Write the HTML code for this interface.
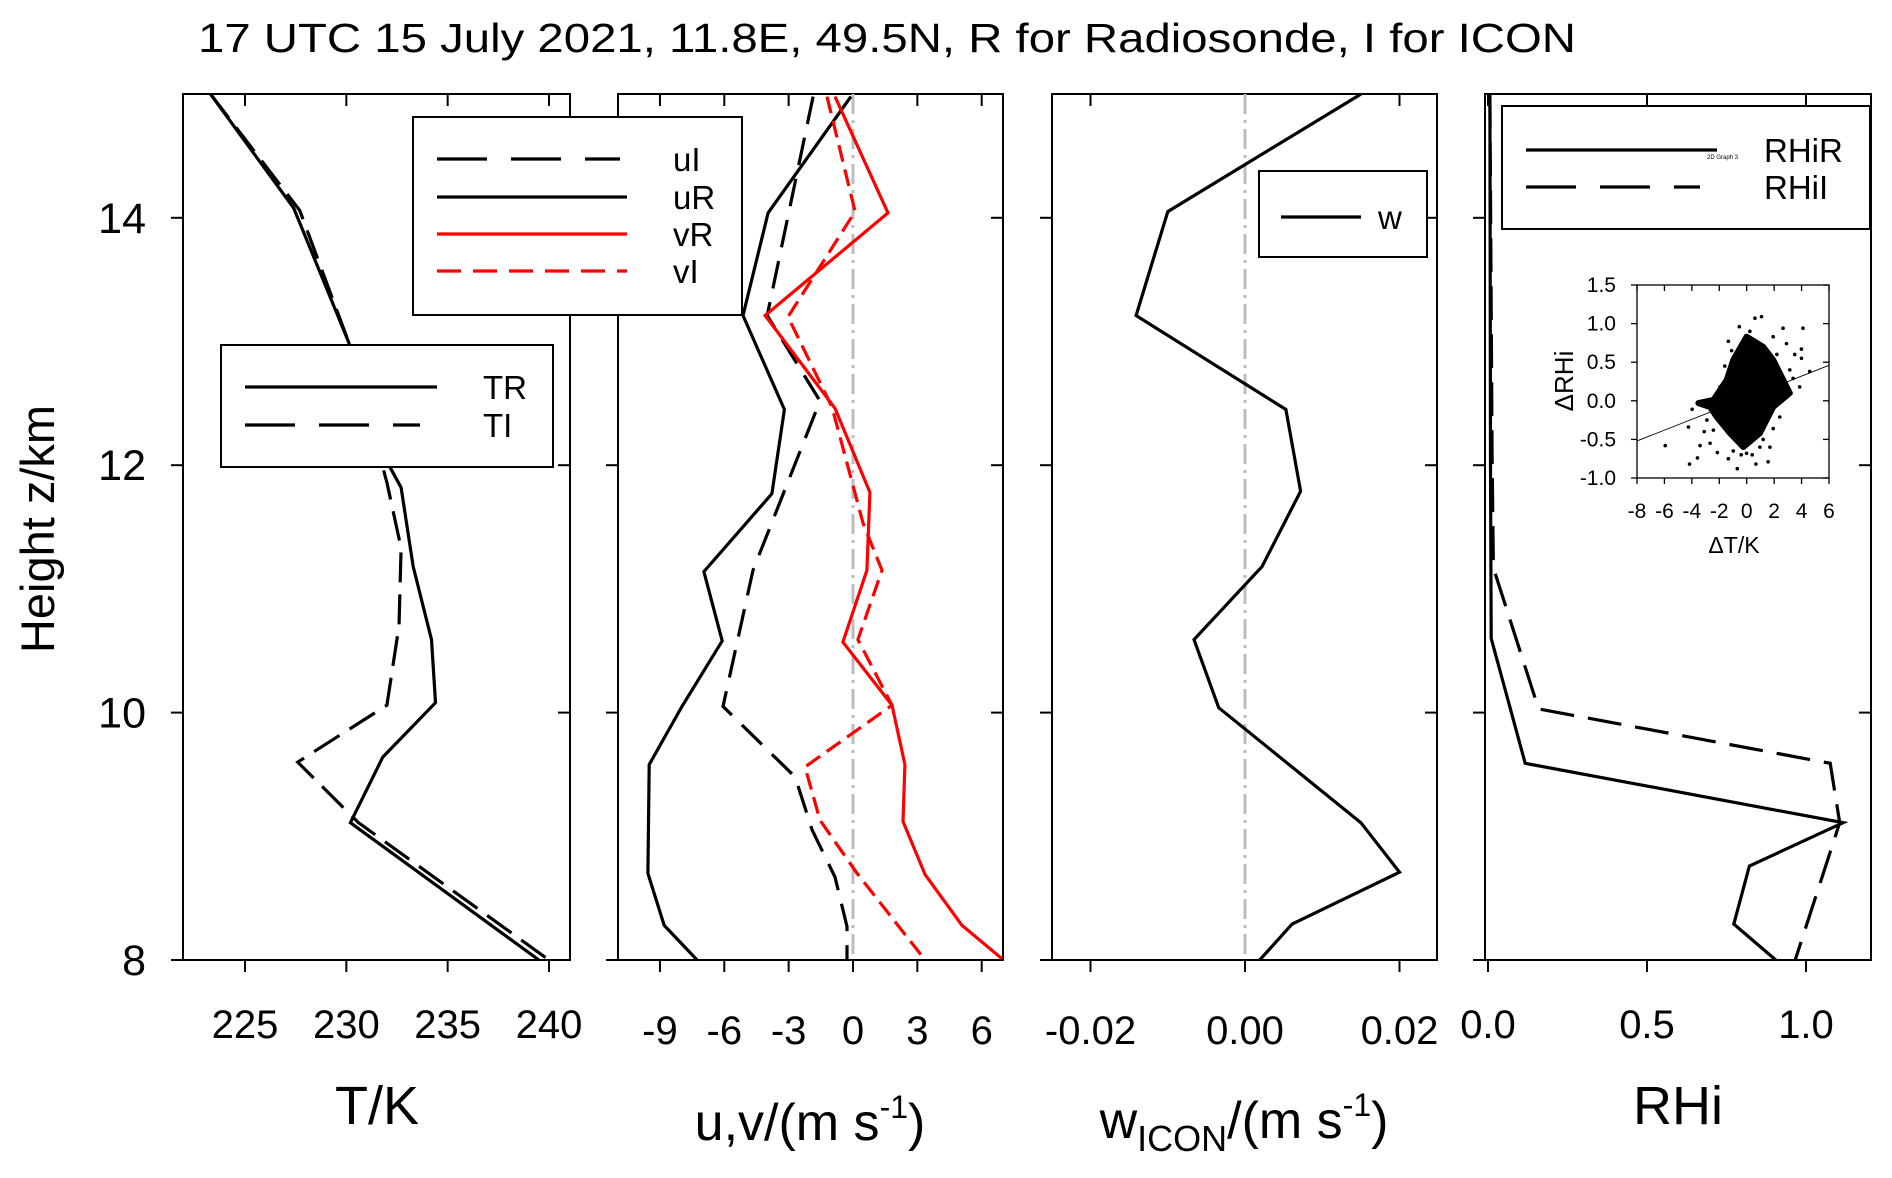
<!DOCTYPE html>
<html><head><meta charset="utf-8"><style>
html,body{margin:0;padding:0;background:#fff;}
svg{display:block;font-family:"Liberation Sans",Arial,sans-serif;}
</style></head><body>
<svg id="chart" width="1892" height="1178" viewBox="0 0 1892 1178" xmlns="http://www.w3.org/2000/svg">
<text x="198" y="52" font-size="41" textLength="1378" lengthAdjust="spacingAndGlyphs">17 UTC 15 July 2021, 11.8E, 49.5N, R for Radiosonde, I for ICON</text>
<text transform="translate(54,529) rotate(-90)" font-size="47" text-anchor="middle">Height z/km</text>
<g id="plots"></g>
</svg>
<script>
// ---- data ----
const zTicks = [8, 10, 12, 14];
const tTicks = [225, 230, 235, 240];
const uTicks = [-9, -6, -3, 0, 3, 6];
const wTicks = [-0.02, 0.00, 0.02];
const wTickLabels = ["-0.02", "0.00", "0.02"];
const rTicks = [0.0, 0.5, 1.0];
const rTickLabels = ["0.0", "0.5", "1.0"];

const trZ = [15, 14.08, 13.0, 12.0, 11.82, 11.18, 10.59, 10.08, 9.64, 9.11, 8.0];
const trT = [223.3, 227.4, 230.1, 232.1, 232.7, 233.3, 234.2, 234.4, 231.8, 230.2, 239.5];
const tiZ = [15, 14.06, 13.0, 11.86, 11.33, 10.7, 10.06, 9.6, 9.11, 8.0];
const tiT = [223.3, 227.7, 230.1, 232.0, 232.7, 232.6, 232.0, 227.6, 230.6, 240.0];

const urZ = [14.98, 14.04, 13.21, 12.45, 11.77, 11.14, 10.58, 10.05, 9.58, 8.70, 8.28, 8.0];
const urU = [-0.1, -3.96, -5.13, -3.2, -3.78, -6.95, -6.1, -7.97, -9.5, -9.56, -8.8, -7.27];
const uiZ = [14.98, 13.21, 12.52, 11.15, 10.05, 9.48, 9.05, 8.67, 8.27, 8.0];
const uiU = [-1.86, -4.0, -1.54, -4.66, -6.06, -2.7, -1.9, -0.84, -0.28, -0.28];
const vrZ = [14.98, 14.04, 13.21, 12.46, 11.78, 11.15, 10.57, 10.06, 9.58, 9.12, 8.69, 8.28, 8.01];
const vrV = [-0.84, 1.63, -4.1, -0.84, 0.79, 0.65, -0.47, 1.82, 2.42, 2.33, 3.36, 5.08, 6.95];
const viZ = [14.98, 14.05, 13.2, 12.47, 11.53, 11.15, 10.59, 10.06, 9.56, 9.13, 8.70, 8.0];
const viV = [-1.21, 0.1, -3.03, -0.98, 0.47, 1.35, 0.23, 1.82, -2.24, -1.54, 0.19, 3.36];

const wZ = [15, 14.05, 13.21, 12.45, 11.79, 11.18, 10.59, 10.04, 9.11, 8.71, 8.29, 8.0];
const wV = [0.015, -0.010, -0.0141, 0.0053, 0.0072, 0.0022, -0.0066, -0.0034, 0.015, 0.020, 0.0061, 0.0019];

const rhrZ = [15, 12.0, 10.6, 9.59, 9.11, 8.76, 8.29, 8.0];
const rhrV = [0.006, 0.008, 0.01, 0.117, 1.117, 0.822, 0.773, 0.905];
const rhiZ = [15, 12.06, 11.17, 10.03, 9.59, 9.11, 8.0];
const rhiV = [0.006, 0.013, 0.017, 0.159, 1.076, 1.106, 0.966];

// inset scatter
const insXTicks = [-8, -6, -4, -2, 0, 2, 4, 6];
const insYTicks = [-1.0, -0.5, 0.0, 0.5, 1.0, 1.5];
const insYLabels = ["-1.0", "-0.5", "0.0", "0.5", "1.0", "1.5"];
const coreDT = [-3.52, -2.43, -1.46, -0.98, -0.01, 1.2, 1.93, 3.14, 1.93, 0.96, -0.25, -1.22, -2.19, -2.67];
const coreDR = [-0.03, 0.01, 0.27, 0.53, 0.83, 0.70, 0.53, 0.10, -0.08, -0.42, -0.6, -0.42, -0.21, -0.08];
const ptDT = [-5.94, -4.17, -3.59, -3.98, -4.25, -3.4, -2.67, -2.14, -1.34, -0.69, 0.67, 1.56, 1.69, 1.93, 2.41, 3.86, 4.59, 3.99, 3.99, 4.1, 2.65, 2.9, 0.6, 1.08, -0.54, -1.34, 0.23, 1.93, 3.14, 3.38, -1.95, -2.43, -0.98, -0.01, 0.96, -1.6, -1.1, 2.2, 2.6, 3.5, -0.4, 0.4, 1.2, -2.9, -3.1];
const ptDR = [-0.58, -0.82, -0.74, -0.11, -0.34, -0.58, -0.55, -0.67, -0.75, -0.88, -0.82, -0.79, -0.6, -0.36, -0.21, 0.18, 0.38, 0.55, 0.67, 0.94, 0.94, 0.74, 1.07, 1.09, 0.96, 0.77, 0.9, 0.83, 0.40, 0.29, 0.18, -0.38, -0.65, -0.68, -0.6, 0.45, 0.65, 0.6, 0.2, 0.6, -0.7, -0.7, -0.5, -0.25, -0.4];
const fitDT = [-8, 6];
const fitDR = [-0.52, 0.46];

// ---- layout ----
const NS = "http://www.w3.org/2000/svg";
const root = document.getElementById("plots");
const yTop = 94, yBot = 960;
const zY = z => 960 - (z - 8) * 123.7;
function el(tag, attrs, parent) {
  const e = document.createElementNS(NS, tag);
  for (const k in attrs) e.setAttribute(k, attrs[k]);
  (parent || root).appendChild(e);
  return e;
}
function txt(s, attrs, parent) { const t = el("text", attrs, parent); t.textContent = s; return t; }

const panels = [
  {x0: 183, x1: 570, xf: v => 245 + (v - 225) * (304 / 15), ticks: tTicks, labels: tTicks.map(String), ly: 1038, name: "temperature-panel"},
  {x0: 618, x1: 1003, xf: v => 853 + v * 21.45, ticks: uTicks, labels: uTicks.map(String), ly: 1044, name: "wind-panel"},
  {x0: 1052, x1: 1437, xf: v => 1245 + v * 7725, ticks: wTicks, labels: wTickLabels, ly: 1044, name: "vertical-wind-panel"},
  {x0: 1485, x1: 1871, xf: v => 1488 + v * 318, ticks: rTicks, labels: rTickLabels, ly: 1038, name: "rhi-panel"}
];

function line(xs, zs, xf, stroke, dash, name) {
  const pts = xs.map((v, i) => xf(v).toFixed(1) + "," + zY(zs[i]).toFixed(1)).join(" ");
  const p = el("polyline", {points: pts, fill: "none", stroke: stroke, "stroke-width": 3.2, "stroke-linejoin": "miter"});
  if (dash) p.setAttribute("stroke-dasharray", dash);
  
  
  return p;
}

panels.forEach((P, pi) => {
  const g = el("g", {});
  
  
  const fr = el("rect", {x: P.x0, y: yTop, width: P.x1 - P.x0, height: yBot - yTop, fill: "none", stroke: "#000", "stroke-width": 2}, g);
  
  
  zTicks.forEach(z => {
    el("line", {x1: P.x0 - 12, x2: P.x0, y1: zY(z), y2: zY(z), stroke: "#000", "stroke-width": 2}, g);
    el("line", {x1: P.x1 - 12, x2: P.x1, y1: zY(z), y2: zY(z), stroke: "#000", "stroke-width": 2}, g);
  });
  P.ticks.forEach((t, i) => {
    const x = P.xf(t);
    el("line", {x1: x, x2: x, y1: yBot, y2: yBot + 12, stroke: "#000", "stroke-width": 2}, g);
    el("line", {x1: x, x2: x, y1: yTop, y2: yTop + 12, stroke: "#000", "stroke-width": 2}, g);
    const tl = txt(P.labels[i], {x: x, y: P.ly, "font-size": 40, "text-anchor": "middle"}, g);
    
    
  });
});

// y tick labels
zTicks.forEach(z => {
  const t = txt(String(z), {x: 146, y: zY(z) + 15, "font-size": 43, "text-anchor": "end"});
  
  
});

// zero lines
[1, 2].forEach(pi => {
  const x = panels[pi].xf(0);
  const zl = el("line", {x1: x, x2: x, y1: yTop, y2: yBot, stroke: "#bdbdbd", "stroke-width": 3, "stroke-dasharray": "20 6 3 6"});
  
  
});

// series
line(trT, trZ, panels[0].xf, "#000", null, "tr-line");
line(tiT, tiZ, panels[0].xf, "#000", "30 12", "ti-line");
line(urU, urZ, panels[1].xf, "#000", null, "ur-line");
line(uiU, uiZ, panels[1].xf, "#000", "28 14", "ui-line");
line(vrV, vrZ, panels[1].xf, "#ff0000", null, "vr-line");
line(viV, viZ, panels[1].xf, "#ff0000", "17 8", "vi-line");
line(wV, wZ, panels[2].xf, "#000", null, "w-line");
line(rhrV, rhrZ, panels[3].xf, "#000", null, "rhir-line");
line(rhiV, rhiZ, panels[3].xf, "#000", "34 14", "rhii-line");

// axis titles
const t1 = txt("T/K", {x: 377, y: 1124, "font-size": 54, "text-anchor": "middle"});


const t2 = el("text", {x: 810, y: 1140, "font-size": 52, "text-anchor": "middle"});
t2.innerHTML = 'u,v/(m s<tspan font-size="32" dy="-22">-1</tspan><tspan dy="22">)</tspan>';


const t3 = el("text", {x: 1244, y: 1138, "font-size": 52, "text-anchor": "middle"});
t3.innerHTML = 'w<tspan font-size="36" dy="13">ICON</tspan><tspan dy="-13">/(m s</tspan><tspan font-size="32" dy="-22">-1</tspan><tspan dy="22">)</tspan>';


const t4 = txt("RHi", {x: 1678, y: 1124, "font-size": 54, "text-anchor": "middle"});



// legends
function legend(name, bx, by, bw, bh, rows) {
  const g = el("g", {});
  
  
  el("rect", {x: bx, y: by, width: bw, height: bh, fill: "#fff", stroke: "#000", "stroke-width": 2}, g);
  rows.forEach(r => {
    const l = el("line", {x1: r.x1, x2: r.x2, y1: r.y, y2: r.y, stroke: r.c, "stroke-width": 3.2}, g);
    if (r.d) l.setAttribute("stroke-dasharray", r.d);
    
    
    const t = txt(r.t, {x: r.tx, y: r.y + 12, "font-size": 33}, g);
    
    
  });
  return g;
}
legend("temperature-legend", 221, 345, 332, 122, [
  {t: "TR", x1: 245, x2: 437, y: 387, c: "#000", tx: 483},
  {t: "TI", x1: 245, x2: 420, y: 425, c: "#000", d: "50 24", tx: 483}
]);
legend("wind-legend", 413, 117, 329, 198, [
  {t: "uI", x1: 437, x2: 620, y: 159, c: "#000", d: "50 24", tx: 673},
  {t: "uR", x1: 437, x2: 627, y: 197, c: "#000", tx: 673},
  {t: "vR", x1: 437, x2: 627, y: 234, c: "#ff0000", tx: 673},
  {t: "vI", x1: 437, x2: 627, y: 271, c: "#ff0000", d: "24 12", tx: 673}
]);
legend("w-legend", 1259, 171, 168, 86, [
  {t: "w", x1: 1281, x2: 1361, y: 217, c: "#000", tx: 1378}
]);
const lg4 = legend("rhi-legend", 1502, 106, 368, 123, [
  {t: "RHiR", x1: 1526, x2: 1717, y: 150, c: "#000", tx: 1764},
  {t: "RHiI", x1: 1526, x2: 1700, y: 187, c: "#000", d: "50 24", tx: 1764}
]);
const tiny = txt("2D Graph 3", {x: 1707, y: 159, "font-size": 6}, lg4);



// inset
const ix0 = 1637, ix1 = 1829, iy0 = 285, iy1 = 478;
const ixf = v => ix0 + (v + 8) * (ix1 - ix0) / 14;
const iyf = v => iy1 - (v + 1) * (iy1 - iy0) / 2.5;
const ig = el("g", {});


el("rect", {x: ix0, y: iy0, width: ix1 - ix0, height: iy1 - iy0, fill: "#fff", stroke: "#000", "stroke-width": 1.3}, ig);
insXTicks.forEach(t => {
  const x = ixf(t);
  el("line", {x1: x, x2: x, y1: iy1, y2: iy1 + 6, stroke: "#000", "stroke-width": 1.3}, ig);
  el("line", {x1: x, x2: x, y1: iy0, y2: iy0 + 6, stroke: "#000", "stroke-width": 1.3}, ig);
  const l = txt(String(t), {x: x, y: 518, "font-size": 21, "text-anchor": "middle"}, ig);
  
  
});
insYTicks.forEach((t, i) => {
  const y = iyf(t);
  el("line", {x1: ix0 - 6, x2: ix0, y1: y, y2: y, stroke: "#000", "stroke-width": 1.3}, ig);
  el("line", {x1: ix1 - 6, x2: ix1, y1: y, y2: y, stroke: "#000", "stroke-width": 1.3}, ig);
  const l = txt(insYLabels[i], {x: 1616, y: y + 7, "font-size": 21, "text-anchor": "end"}, ig);
  
  
});
const core = el("polygon", {points: coreDT.map((v, i) => ixf(v).toFixed(1) + "," + iyf(coreDR[i]).toFixed(1)).join(" "), fill: "#000", stroke: "#000", "stroke-width": 6, "stroke-linejoin": "round"}, ig);


ptDT.forEach((v, i) => {
  const c = el("circle", {cx: ixf(v), cy: iyf(ptDR[i]), r: 1.8, fill: "#000"}, ig);
  
  
});
const fit = el("line", {x1: ixf(fitDT[0]), y1: iyf(fitDR[0]), x2: ixf(fitDT[1]), y2: iyf(fitDR[1]), stroke: "#000", "stroke-width": 0.9}, ig);


const ixt = txt("\u0394T/K", {x: 1734, y: 553, "font-size": 23, "text-anchor": "middle"}, ig);


const iyt = txt("\u0394RHi", {transform: "translate(1573,381) rotate(-90)", "font-size": 26, "text-anchor": "middle"}, ig);


</script>
</body></html>
